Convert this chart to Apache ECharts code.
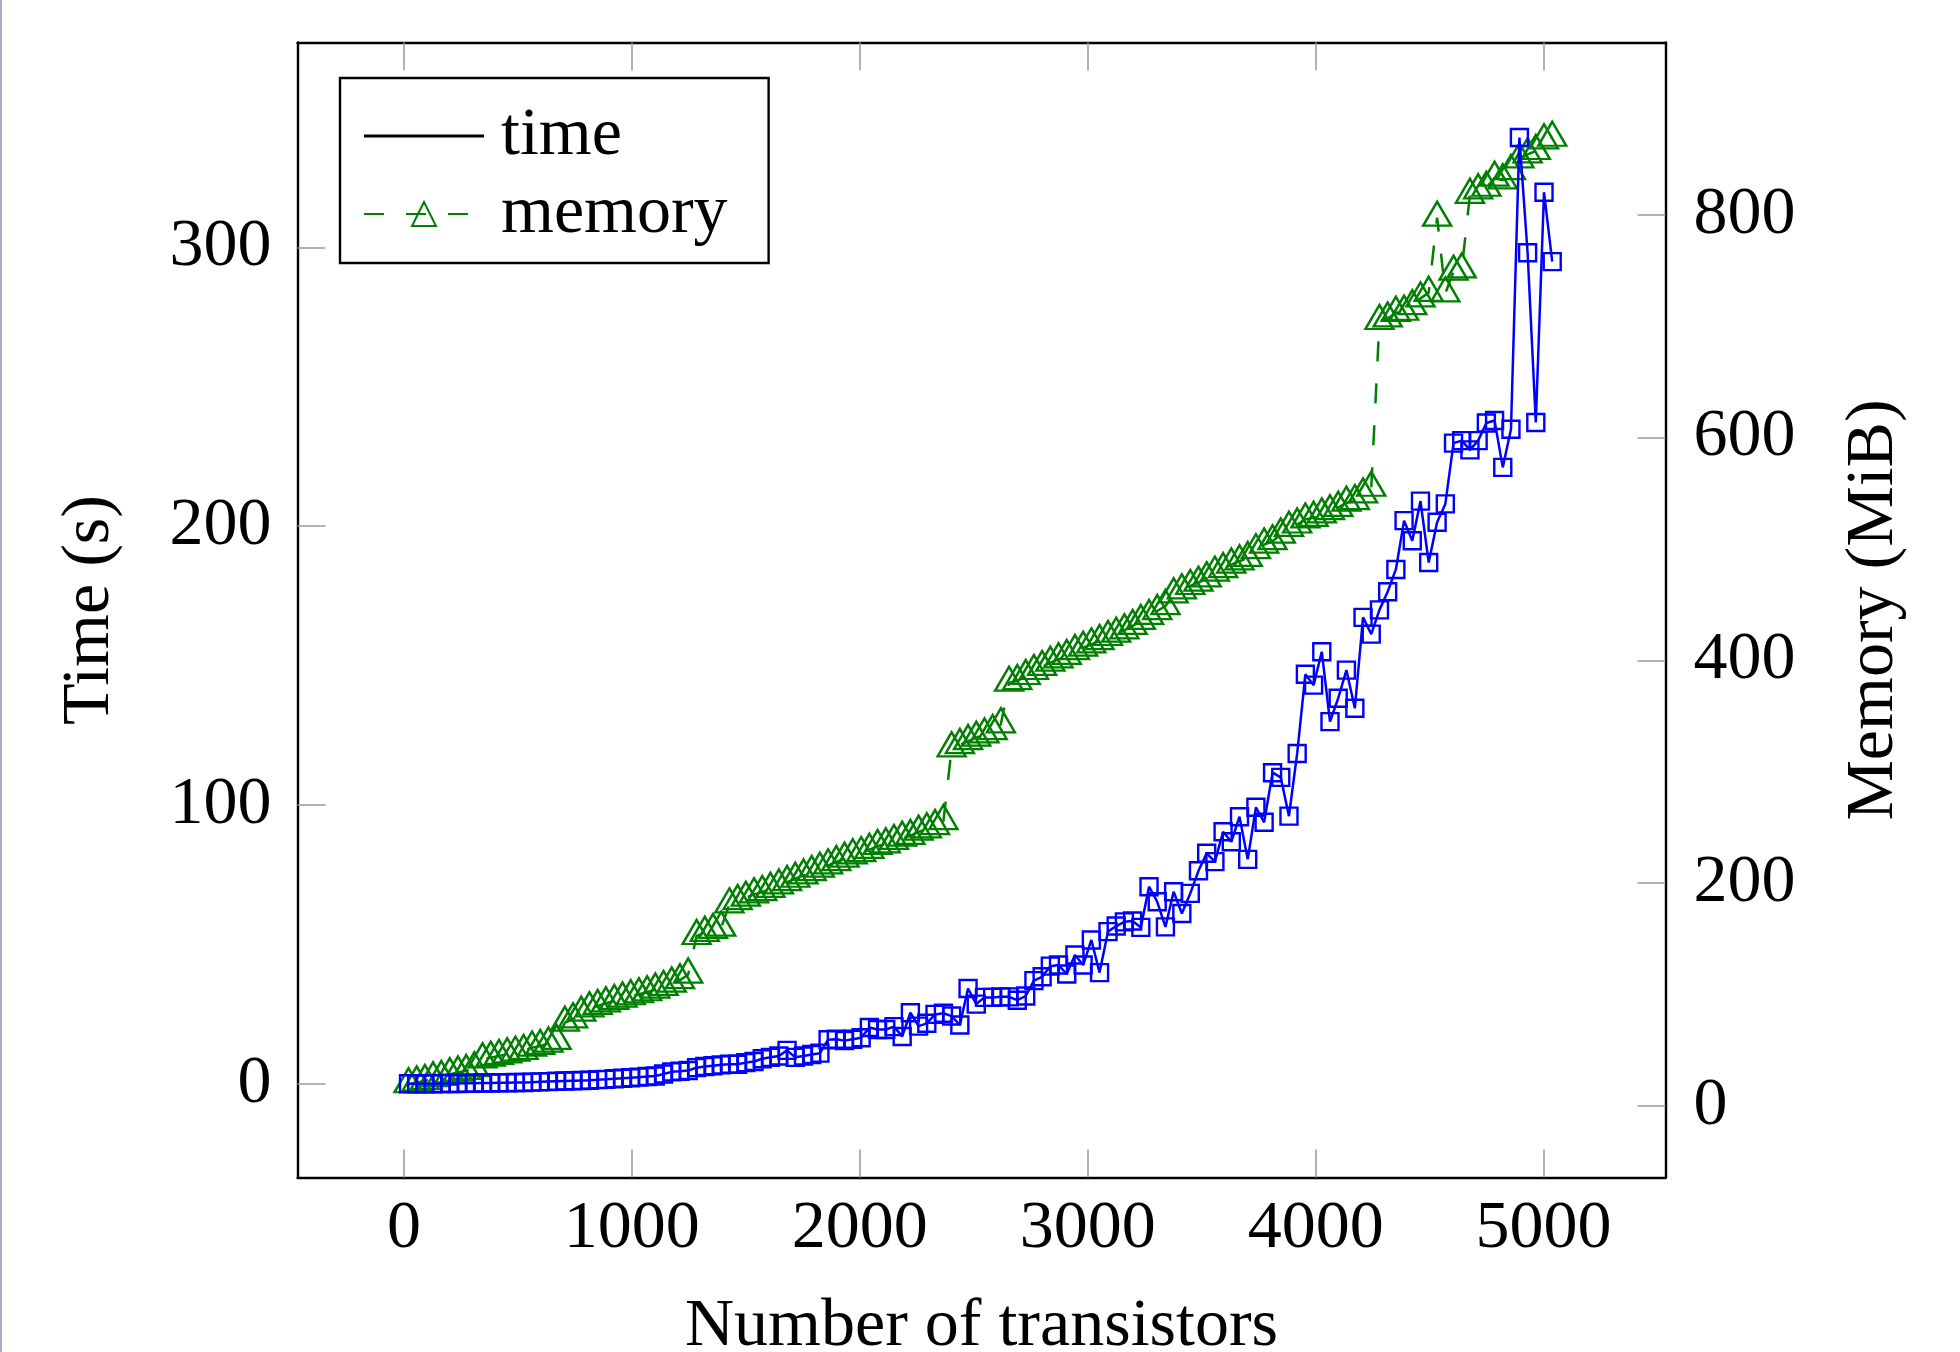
<!DOCTYPE html>
<html>
<head>
<meta charset="utf-8">
<title>Time and memory vs number of transistors</title>
<script src="https://cdn.jsdelivr.net/npm/echarts@6/dist/echarts.min.js"></script>
<style>
  html, body { margin: 0; padding: 0; background: #fff; }
  #chart { width: 1960px; height: 1352px; }
</style>
</head>
<body>
<div id="chart"></div>
<script>
// Number of transistors (x)
const transistors = [
  20, 56, 92, 128, 164, 201, 237, 273, 309, 345,
  381, 417, 453, 489, 525, 562, 598, 634, 670, 706,
  742, 778, 814, 850, 886, 923, 959, 995, 1031, 1067,
  1103, 1139, 1175, 1211, 1247, 1284, 1320, 1356, 1392, 1428,
  1464, 1500, 1536, 1572, 1608, 1645, 1681, 1717, 1753, 1789,
  1825, 1861, 1897, 1933, 1969, 2006, 2042, 2078, 2114, 2150,
  2186, 2222, 2258, 2294, 2330, 2367, 2403, 2439, 2475, 2511,
  2547, 2583, 2619, 2655, 2691, 2728, 2764, 2800, 2836, 2872,
  2908, 2944, 2980, 3016, 3052, 3089, 3125, 3161, 3197, 3233,
  3269, 3305, 3341, 3377, 3413, 3450, 3486, 3522, 3558, 3594,
  3630, 3666, 3702, 3738, 3774, 3811, 3847, 3883, 3919, 3955,
  3991, 4027, 4063, 4099, 4135, 4172, 4208, 4244, 4280, 4316,
  4352, 4388, 4424, 4460, 4496, 4533, 4569, 4605, 4641, 4677,
  4713, 4749, 4785, 4821, 4857, 4894, 4930, 4966, 5002, 5038
];

// Time (s), left axis
const timeSeconds = [
  0, 0, 0, 0, 0.1, 0.1, 0.1, 0.2, 0.2, 0.3,
  0.3, 0.4, 0.4, 0.5, 0.5, 0.6, 0.7, 0.8, 0.9, 1.0,
  1.1, 1.2, 1.3, 1.5, 1.6, 1.8, 2.0, 2.2, 2.4, 2.6,
  2.8, 3.5, 4.3, 4.5, 4.8, 5.8, 6.2, 6.5, 6.8, 7.0,
  7.0, 7.6, 8.0, 9.0, 9.5, 10.0, 12.0, 9.5, 10.0, 10.5,
  11.0, 15.8, 16.0, 15.5, 16.0, 16.5, 20.2, 19.5, 19.5, 20.5,
  17.0, 25.5, 20.7, 21.7, 24.9, 25.3, 24.3, 21.1, 34.2, 28.6,
  31.0, 31.0, 31.2, 31.2, 30.0, 31.5, 37.0, 38.4, 42.2, 42.6,
  39.4, 46.2, 42.6, 51.6, 39.9, 54.6, 56.6, 58.1, 58.4, 56.1,
  70.7, 65.3, 56.3, 68.9, 61.1, 68.3, 76.4, 82.7, 79.7, 90.4,
  86.8, 95.8, 80.5, 99.2, 93.8, 111.6, 109.9, 96.0, 118.5, 146.9,
  143.0, 155.0, 129.9, 138.3, 148.4, 134.7, 167.3, 161.3, 170.0, 176.5,
  184.5, 202.0, 194.8, 209.0, 187.0, 201.4, 208.0, 229.8, 230.7, 227.4,
  230.7, 237.0, 237.9, 221.1, 234.8, 339.4, 298.1, 237.2, 319.8, 294.9
];

// Memory (MiB), right axis
const memoryMiB = [
  19.5, 21, 22.5, 24.9, 26.1, 28.5, 30, 31.5, 33.9, 41.9,
  43.4, 44.9, 46.4, 47.9, 49.4, 52.4, 53.9, 56, 58.4, 74.8,
  77.8, 83.8, 87.7, 89.8, 92.2, 94.3, 96.4, 98.5, 100.3, 102.1,
  104.5, 106.9, 109.9, 112.9, 118, 152.6, 155.5, 158, 160.1, 181,
  184, 187, 190, 192, 195, 198, 201, 204, 207, 210,
  213, 216, 219, 222, 225, 227, 230, 233.4, 234.9, 237.9,
  240.9, 242.4, 246.2, 248.4, 251.3, 255.8, 321.1, 324, 327.6, 330.6,
  333.6, 336.6, 342.6, 380.0, 381.5, 386.0, 390.5, 394.1, 398.0, 401.0,
  404.0, 408.4, 411.4, 414.4, 417.4, 421.0, 424.0, 427.0, 430.9, 435.4,
  439.9, 444.3, 448.8, 459.3, 462.9, 466.8, 469.8, 473.7, 478.8, 482,
  486, 489, 492, 499, 504, 507, 513, 519, 522, 526.6,
  528, 531, 534, 537, 541.6, 543, 549, 555, 704.7, 707,
  712, 713, 718, 725, 730, 797.4, 729.5, 749, 751, 818,
  822, 824.3, 833.3, 831, 839.3, 849.8, 854.3, 857.3, 866.9, 869.2
];

const xTicks = [0, 1000, 2000, 3000, 4000, 5000];
const timeTicks = [0, 100, 200, 300];
const memoryTicks = [0, 200, 400, 600, 800];

const FONT = "'Liberation Serif', 'DejaVu Serif', serif";
const BLUE = '#0000ff';
const GREEN = '#008000';

const frameLine = { show: true, onZero: false, lineStyle: { color: '#000', width: 2.4 } };
const tickStyle = (values) => ({
  inside: true,
  length: 28,
  customValues: values,
  lineStyle: { color: '#9a9a9a', width: 1.5 },
});
const labelStyle = (values, margin) => ({
  customValues: values,
  margin: margin,
  formatter: (v) => String(v),
  fontFamily: FONT,
  fontSize: 68,
  color: '#000',
});
const nameStyle = { fontFamily: FONT, fontSize: 68, color: '#000' };

const chart = echarts.init(document.getElementById('chart'), null, { renderer: 'canvas' });

chart.setOption({
  animation: false,
  backgroundColor: '#fff',
  grid: {
    left: 297.5, right: 294.5, top: 42.5, bottom: 174.5,
    containLabel: false,
    outerBoundsMode: 'none',
  },
  legend: {
    orient: 'vertical',
    left: 340,
    top: 78,
    padding: [24, 41, 15, 23],
    itemGap: 10,
    itemWidth: 120,
    itemHeight: 30,
    borderColor: '#000',
    borderWidth: 2.4,
    borderRadius: 0,
    backgroundColor: '#fff',
    selectedMode: false,
    textStyle: { fontFamily: FONT, fontSize: 68, color: '#000', lineHeight: 68, padding: [0, 0, 0, 12] },
    data: [
      { name: 'time', icon: 'path://M0 0H40V1H0Z', itemStyle: { color: '#000', borderWidth: 0 } },
      { name: 'memory' },
    ],
  },
  xAxis: [
    {
      type: 'value',
      position: 'bottom',
      min: -467,
      max: 5535,
      axisLine: frameLine,
      axisTick: tickStyle(xTicks),
      axisLabel: labelStyle(xTicks, 18),
      splitLine: { show: false },
      name: 'Number of transistors',
      nameLocation: 'middle',
      nameGap: 116,
      nameTextStyle: nameStyle,
    },
    {
      type: 'value',
      position: 'top',
      min: -467,
      max: 5535,
      axisLine: frameLine,
      axisTick: tickStyle(xTicks),
      axisLabel: { show: false },
      splitLine: { show: false },
    },
  ],
  yAxis: [
    {
      type: 'value',
      position: 'left',
      min: -33.6,
      max: 373.5,
      axisLine: frameLine,
      axisTick: tickStyle(timeTicks),
      axisLabel: labelStyle(timeTicks, 26),
      splitLine: { show: false },
      name: 'Time (s)',
      nameLocation: 'middle',
      nameRotate: 90,
      nameGap: 173,
      nameTextStyle: nameStyle,
    },
    {
      type: 'value',
      position: 'right',
      min: -64.2,
      max: 954.7,
      axisLine: frameLine,
      axisTick: tickStyle(memoryTicks),
      axisLabel: labelStyle(memoryTicks, 28),
      splitLine: { show: false },
      name: 'Memory (MiB)',
      nameLocation: 'middle',
      nameRotate: 90,
      nameGap: 175,
      nameTextStyle: nameStyle,
    },
  ],
  series: [
    {
      name: 'memory',
      type: 'line',
      xAxisIndex: 0,
      yAxisIndex: 1,
      data: transistors.map((x, i) => [x, memoryMiB[i]]),
      symbol: 'triangle',
      symbolSize: [28, 24],
      symbolOffset: [0, -4],
      showAllSymbol: true,
      itemStyle: { color: 'rgba(0,0,0,0)', borderColor: GREEN, borderWidth: 2.4 },
      lineStyle: { color: GREEN, width: 2.5, type: [20, 22] },
      emphasis: { disabled: true },
      z: 2,
    },
    {
      name: 'time',
      type: 'line',
      xAxisIndex: 0,
      yAxisIndex: 0,
      data: transistors.map((x, i) => [x, timeSeconds[i]]),
      symbol: 'rect',
      symbolSize: 17,
      showAllSymbol: true,
      itemStyle: { color: 'rgba(0,0,0,0)', borderColor: BLUE, borderWidth: 2.4 },
      lineStyle: { color: BLUE, width: 2.5 },
      emphasis: { disabled: true },
      z: 3,
    },
  ],
  graphic: [
    {
      type: 'rect',
      left: 0,
      top: 0,
      shape: { width: 2, height: 1352 },
      style: { fill: '#a9a9c6' },
      silent: true,
    },
  ],
});
</script>
</body>
</html>
